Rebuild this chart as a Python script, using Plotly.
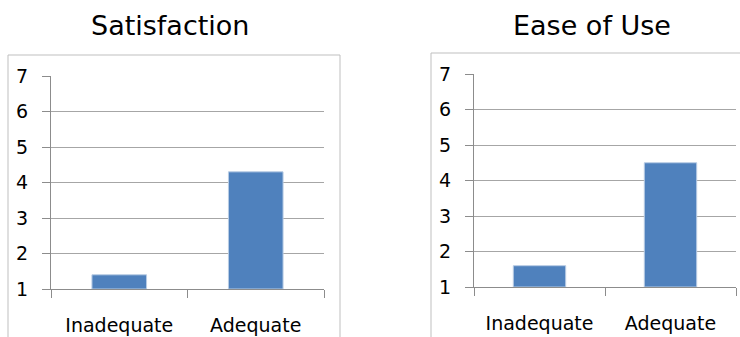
import plotly.graph_objects as go

categories = ["Inadequate", "Adequate"]
satisfaction = [1.4, 4.3]
ease_of_use = [1.6, 4.5]
titles = ["Satisfaction", "Ease of Use"]
y_ticks = [1, 2, 3, 4, 5, 6, 7]

BAR = "#4F81BD"
GRID = "#A6A6A6"
AXIS = "#8C8C8C"
FRAME = "#BFBFBF"
FONT = "DejaVu Sans"

fig = go.Figure()
fig.add_trace(go.Bar(x=categories, y=[v - 1 for v in satisfaction], base=1,
                     marker=dict(color=BAR, line=dict(color="#B8CCE4", width=1)),
                     xaxis="x", yaxis="y", showlegend=False))
fig.add_trace(go.Bar(x=categories, y=[v - 1 for v in ease_of_use], base=1,
                     marker=dict(color=BAR, line=dict(color="#B8CCE4", width=1)),
                     xaxis="x2", yaxis="y2", showlegend=False))

W, H = 740, 337

def xax(d0, d1, anchor):
    return dict(domain=[d0 / W, d1 / W], anchor=anchor, type="category",
                tickson="boundaries", ticks="outside", ticklen=8, tickcolor=AXIS,
                showline=True, linecolor=AXIS, linewidth=1, showgrid=False,
                tickfont=dict(family=FONT, size=19, color="#000000"),
                ticklabelstandoff=19, fixedrange=True, automargin=False)

def yax(top, bottom, anchor):
    return dict(domain=[1 - bottom / H, 1 - top / H], anchor=anchor,
                range=[1, 7], tickvals=y_ticks, ticks="outside", ticklen=8,
                tickcolor=AXIS, showline=True, linecolor=AXIS, linewidth=1,
                showgrid=True, gridcolor=GRID, gridwidth=1, zeroline=False,
                tickfont=dict(family=FONT, size=19, color="#000000"),
                ticklabelstandoff=10, fixedrange=True, automargin=False)

fig.update_layout(
    width=W, height=H,
    margin=dict(l=0, r=0, t=0, b=0),
    paper_bgcolor="white", plot_bgcolor="white",
    bargap=0.6,
    xaxis=xax(51, 324, "y"),
    yaxis=yax(76, 289, "x"),
    xaxis2=xax(474, 736, "y2"),
    yaxis2=yax(74, 287, "x2"),
    shapes=[
        dict(type="rect", xref="paper", yref="paper",
             x0=8 / W, x1=340 / W, y0=-0.2, y1=1 - 55 / H,
             line=dict(color=FRAME, width=1), layer="below"),
        dict(type="rect", xref="paper", yref="paper",
             x0=431 / W, x1=1.2, y0=-0.2, y1=1 - 53 / H,
             line=dict(color=FRAME, width=1), layer="below"),
    ],
    annotations=[
        dict(text=titles[0], xref="paper", yref="paper", x=170 / W, y=1 - 25 / H,
             xanchor="center", yanchor="middle", showarrow=False,
             font=dict(family=FONT, size=27, color="#000000")),
        dict(text=titles[1], xref="paper", yref="paper", x=592 / W, y=1 - 25 / H,
             xanchor="center", yanchor="middle", showarrow=False,
             font=dict(family=FONT, size=27, color="#000000")),
    ],
)

fig.write_html("out.html")
